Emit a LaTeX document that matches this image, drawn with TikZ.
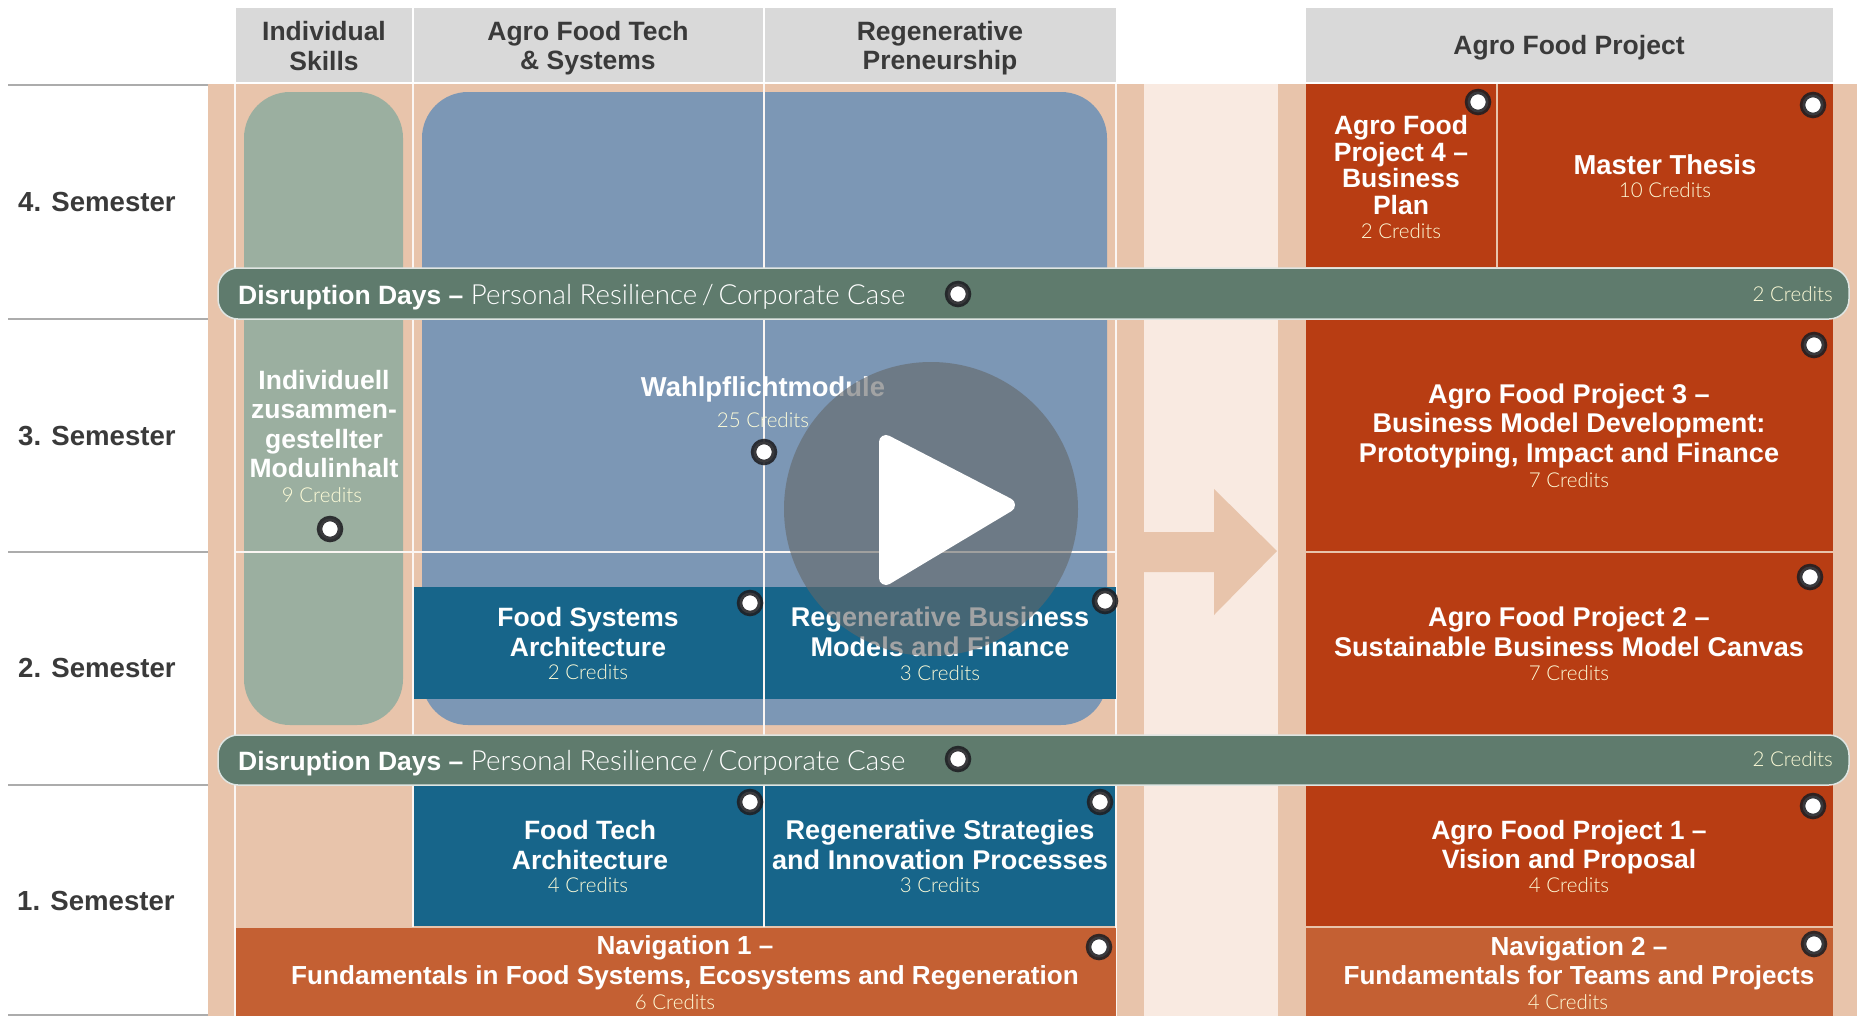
\documentclass[tikz,border=0pt]{standalone}
\usepackage{fontspec}
\usepackage{xcolor}
\usepackage{tikz}
\usetikzlibrary{positioning}
\setmainfont{Liberation Sans}
\newfontfamily\lightfont{Lato Light}
\definecolor{cpeach}{RGB}{232,196,171}
\definecolor{clight}{RGB}{249,234,225}
\definecolor{cgreen}{RGB}{155,175,160}
\definecolor{cblue}{RGB}{124,151,181}
\definecolor{cbar}{RGB}{95,123,109}
\definecolor{cteal}{RGB}{23,101,138}
\definecolor{cred}{RGB}{184,61,19}
\definecolor{corange}{RGB}{196,96,51}
\definecolor{chead}{RGB}{217,217,217}
\definecolor{ctext}{RGB}{58,58,58}
\definecolor{cline}{RGB}{172,172,172}
\definecolor{cring}{RGB}{30,30,34}
\definecolor{cveil}{RGB}{100,103,104}

\begin{document}
\begin{tikzpicture}[
  x=1pt, y=-1pt,
  headtxt/.style  = {font=\bfseries\fontsize{26.5}{29.5}\selectfont, text=ctext, align=center, inner sep=0pt},
  semtxt/.style   = {font=\bfseries\fontsize{27.6}{29.5}\selectfont, text=ctext, anchor=west, inner sep=0pt},
  title/.style    = {font=\bfseries\fontsize{26.5}{29.5}\selectfont, text=white, align=center, inner sep=0pt},
  widetitle/.style = {title, font=\bfseries\fontsize{27.1}{29.5}\selectfont},
  slimtitle/.style = {title, font=\bfseries\fontsize{26.1}{29.5}\selectfont},
  credit/.style   = {font=\lightfont\fontsize{20.5}{24}\selectfont, text=white!85!#1, inner sep=0pt},
  credit/.default = yellow,
  dot/.style      = {circle, fill=white, draw=cring, draw opacity=0.88, line width=5.5pt, minimum size=21pt, inner sep=0pt},
  bar/.style      = {fill=cbar, draw=white!80!cbar, line width=1.5pt, rounded corners=20pt},
  gridln/.style   = {white!85!cpeach, line width=1.5pt},
  semln/.style    = {cline, line width=1.5pt},
]
\useasboundingbox (0,0) rectangle (1861,1020);
% Column bands
\fill[cpeach] (208,84) rectangle (1144,1016);
\fill[clight] (1144,84) rectangle (1278,1016);
\fill[cpeach] (1278,84) rectangle (1857,1016);
% Flow arrow between the two parts
\fill[cpeach] (1144,532) -- (1214,532) -- (1214,489) -- (1277,551) -- (1214,615) -- (1214,572) -- (1144,572) -- cycle;
% Head row
\fill[chead] (236,8) rectangle (412,82);
\fill[chead] (414,8) rectangle (763,82);
\fill[chead] (765,8) rectangle (1116,82);
\fill[chead] (1306,8) rectangle (1833,82);
\node[headtxt] (skills) at (324,46) {Individual\\Skills};
\node[headtxt] (tech)   at (588,48) {Agro Food Tech\\\& Systems};
\node[headtxt] (regen)  at (940,48) {Regenerative\\Preneurship};
\node[headtxt] (proj)   at (1569,48) {Agro Food Project};
% Semester rules and labels
\draw[semln] (8,85)   -- (208,85);
\draw[semln] (8,319)  -- (208,319);
\draw[semln] (8,552)  -- (208,552);
\draw[semln] (8,785)  -- (208,785);
\draw[semln] (8,1015) -- (208,1015);
\node[semtxt] (sem4) at (18,202) {4. Semester};
\node[semtxt] (sem3) at (18,436) {3. Semester};
\node[semtxt] (sem2) at (18,668) {2. Semester};
\node[semtxt] (sem1) at (17,901) {1. Semester};
% Elective areas
\fill[cgreen] (244,92) [rounded corners=46pt] rectangle (403,725);
\fill[cblue]  (422,92) [rounded corners=46pt] rectangle (1107,725);
% Grid lines
\draw[gridln] (235,84)  -- (235,1016);
\draw[gridln] (413,84)  -- (413,927);
\draw[gridln] (764,84)  -- (764,927);
\draw[gridln] (1116,84) -- (1116,1016);
\draw[gridln] (235,552) -- (1116,552);
% Semester 2 modules
\fill[cteal] (414,587) rectangle (1116,699);
\draw[gridln] (764,587) -- (764,699);
% Semester 1 modules
\fill[cteal] (414,785) rectangle (763,926);
\fill[cteal] (765,785) rectangle (1115,926);
\fill[corange] (236,928) rectangle (1116,1016);
% Project column
\fill[cred] (1306,84) rectangle (1496,267);
\fill[cred] (1498,84) rectangle (1833,267);
\fill[cred] (1306,318) rectangle (1833,551);
\fill[cred] (1306,553) rectangle (1833,735);
\fill[cred] (1306,785) rectangle (1833,926);
\fill[corange] (1306,928) rectangle (1833,1016);
% Disruption bars
\path[bar] (218,268) rectangle (1849,319);
\path[bar] (218,735) rectangle (1849,785);
\node[title, anchor=west] (dis4) at (238,297.5) {Disruption Days – {\lightfont\mdseries\fontsize{27.7}{30}\selectfont Personal Resilience\,/\,Corporate Case}};
\node[title, anchor=west] (dis2) at (238,763.5) {Disruption Days – {\lightfont\mdseries\fontsize{27.7}{30}\selectfont Personal Resilience\,/\,Corporate Case}};
\node[credit, anchor=east] (dis4c) at (1833,294) {2 Credits};
\node[credit, anchor=east] (dis2c) at (1833,759) {2 Credits};
% Left column and electives
\node[title] (indiv) at (324,424) {Individuell\\zusammen-\\gestellter\\Modulinhalt};
\node[credit, below=9pt of indiv.south, xshift=-2pt] (indivc) {9 Credits};
\node[widetitle, font=\bfseries\fontsize{27.4}{29.5}\selectfont] (wahl) at (763,389.5) {Wahlpflichtmodule};
\node[credit, below=9.5pt of wahl] (wahlc) {25 Credits};
% Teal modules
\node[title] (fsa) at (588,632) {Food Systems\\Architecture};
\node[credit, below=8pt of fsa] (fsac) {2 Credits};
\node[widetitle] (rbm) at (940,632) {Regenerative Business\\Models and Finance};
\node[credit, below=8pt of rbm] (rbmc) {3 Credits};
\node[title] (fta) at (590,845) {Food Tech\\Architecture};
\node[credit, below=7.5pt of fta, xshift=-2pt] (ftac) {4 Credits};
\node[widetitle] (rsi) at (940,845) {Regenerative Strategies\\and Innovation Processes};
\node[credit, below=7.5pt of rsi] (rsic) {3 Credits};
% Navigation modules
\node[slimtitle] (nav1) at (685,963) {Navigation 1 –\\Fundamentals in Food Systems, Ecosystems and Regeneration};
\node[credit, below=4pt of nav1, xshift=-10pt] (nav1c) {6 Credits};
\node[slimtitle] (nav2) at (1579,963) {Navigation 2 –\\Fundamentals for Teams and Projects};
\node[credit, below=4pt of nav2, xshift=-11pt] (nav2c) {4 Credits};
% Project modules
\node[title, font=\bfseries\fontsize{26.5}{26.5}\selectfont] (afp4) at (1401,165) {Agro Food\\Project 4 –\\Business\\Plan};
\node[credit, below=8.5pt of afp4] (afp4c) {2 Credits};
\node[widetitle, font=\bfseries\fontsize{27.4}{29.5}\selectfont] (thesis) at (1665,165) {Master Thesis};
\node[credit, below=7pt of thesis] (thesisc) {10 Credits};
\node[widetitle] (afp3) at (1569,426) {Agro Food Project 3 –\\Business Model Development:\\Prototyping, Impact and Finance};
\node[credit, below=4pt of afp3] (afp3c) {7 Credits};
\node[widetitle] (afp2) at (1569,632) {Agro Food Project 2 –\\Sustainable Business Model Canvas};
\node[credit, below=8pt of afp2] (afp2c) {7 Credits};
\node[title] (afp1) at (1569,847) {Agro Food Project 1 –\\Vision and Proposal};
\node[credit, below=3pt of afp1] (afp1c) {4 Credits};
% Marker dots
\node[dot] (dot1)  at (1478,102) {};
\node[dot] (dot2)  at (1813,105) {};
\node[dot] (dot3)  at (958,294)  {};
\node[dot] (dot4)  at (1814,345) {};
\node[dot] (dot5)  at (330,529)  {};
\node[dot] (dot6)  at (764,452)  {};
\node[dot] (dot7)  at (750,603)  {};
\node[dot] (dot8)  at (1105,601) {};
\node[dot] (dot9)  at (1810,577) {};
\node[dot] (dot10) at (958,759)  {};
\node[dot] (dot11) at (750,802)  {};
\node[dot] (dot12) at (1100,802) {};
\node[dot] (dot13) at (1813,806) {};
\node[dot] (dot14) at (1099,947) {};
\node[dot] (dot15) at (1814,944) {};
% Play button
\fill[cveil, opacity=0.6] (931,509) circle (147);
\fill[white, draw=white, line width=14pt, line join=round] (886,442) -- (886,578) -- (1008,505) -- cycle;
\end{tikzpicture}
\end{document}
